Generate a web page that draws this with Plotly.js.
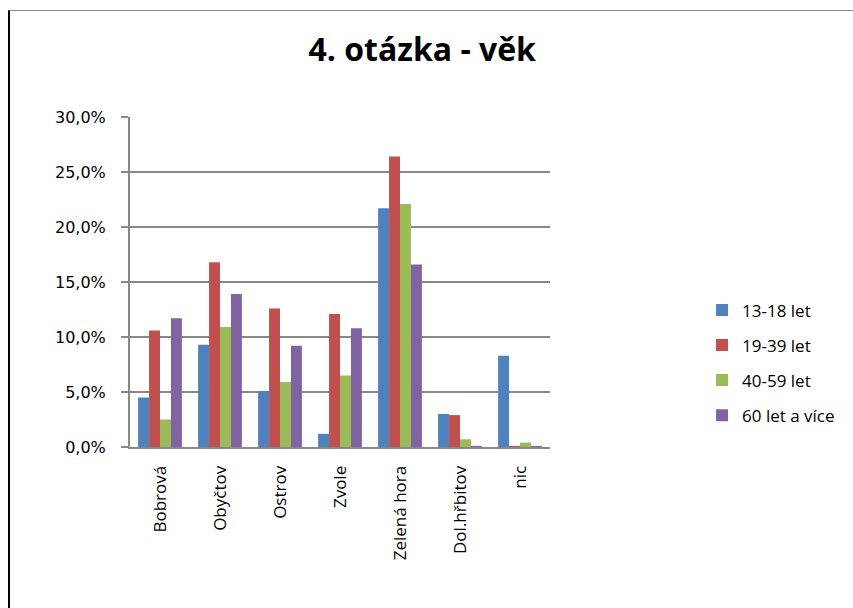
<!DOCTYPE html>
<html>
<head>
<meta charset="utf-8">
<script src="https://cdn.plot.ly/plotly-3.0.1.min.js"></script>
<style>
  html, body { margin: 0; padding: 0; background: #fff; }
  #wrap { position: absolute; left: 0; top: 0; width: 853px; height: 608px; }
  #frame { position: absolute; left: 8px; top: 10px; width: 845px; height: 598px;
           border-left: 2px solid #000; border-top: 1px solid #888; box-sizing: border-box; pointer-events: none; }
  #chart { position: absolute; left: 0; top: 0; width: 853px; height: 608px; }
</style>
</head>
<body>
<div id="wrap">
  <div id="chart"></div>
  <div id="frame"></div>
</div>
<script>
const categories = ["Bobrová", "Obyčtov", "Ostrov", "Zvole", "Zelená hora", "Dol.hřbitov", "nic"];
const seriesNames = ["13-18 let", "19-39 let", "40-59 let", "60 let a více"];
const s1318 = [0.045, 0.093, 0.051, 0.012, 0.217, 0.030, 0.083];
const s1939 = [0.106, 0.168, 0.126, 0.121, 0.264, 0.029, 0.001];
const s4059 = [0.025, 0.109, 0.059, 0.065, 0.221, 0.007, 0.004];
const s60 = [0.117, 0.139, 0.092, 0.108, 0.166, 0.001, 0.001];
const yTicks = [0, 0.05, 0.10, 0.15, 0.20, 0.25, 0.30];
const colors = ["#4F81BD", "#C0504D", "#9BBB59", "#8064A2"];

const allSeries = [s1318, s1939, s4059, s60];
const traces = allSeries.map((vals, i) => ({
  type: "bar",
  name: seriesNames[i],
  x: categories,
  y: vals,
  legendgroup: "g" + i,
  marker: { color: colors[i], line: { width: 0 } },
  hoverinfo: "skip"
}));

const FONT = "Open Sans, Noto Sans, sans-serif";

const layout = {
  width: 853,
  height: 608,
  paper_bgcolor: "#fff",
  plot_bgcolor: "#fff",
  separators: ", ",
  margin: { l: 130, r: 303, t: 117, b: 161 },
  barmode: "group",
  bargap: 0.27,
  bargroupgap: 0,
  font: { family: FONT, color: "#000" },
  title: {
    text: "<b>4. otázka - věk</b>",
    font: { size: 32, color: "#000", family: FONT },
    x: 0.495, xref: "container", xanchor: "center",
    y: 0.918, yref: "container", yanchor: "middle"
  },
  xaxis: {
    type: "category",
    tickangle: -90,
    tickfont: { size: 17, family: FONT, color: "#000" },
    showline: true, linecolor: "#888", linewidth: 2,
    ticks: "", showgrid: false,
    ticklabelstandoff: 10,
    automargin: false
  },
  yaxis: {
    range: [0, 0.30],
    tickvals: yTicks,
    tickformat: ".1%",
    tickfont: { size: 16, family: "DejaVu Sans, sans-serif", color: "#000" },
    showline: true, linecolor: "#888", linewidth: 2,
    ticks: "outside", ticklen: 7, tickcolor: "#888", tickwidth: 2,
    ticklabelstandoff: 12,
    showgrid: true, gridcolor: "#888", gridwidth: 2,
    zeroline: false,
    automargin: false
  },
  showlegend: true,
  legend: {
    x: 1.362, xref: "paper", xanchor: "left",
    y: 0.255, yanchor: "middle",
    font: { size: 17, family: FONT, color: "#000" },
    tracegroupgap: 10,
    itemwidth: 30,
    bgcolor: "rgba(0,0,0,0)"
  }
};

Plotly.newPlot("chart", traces, layout, { displayModeBar: false, staticPlot: true });
</script>
</body>
</html>
